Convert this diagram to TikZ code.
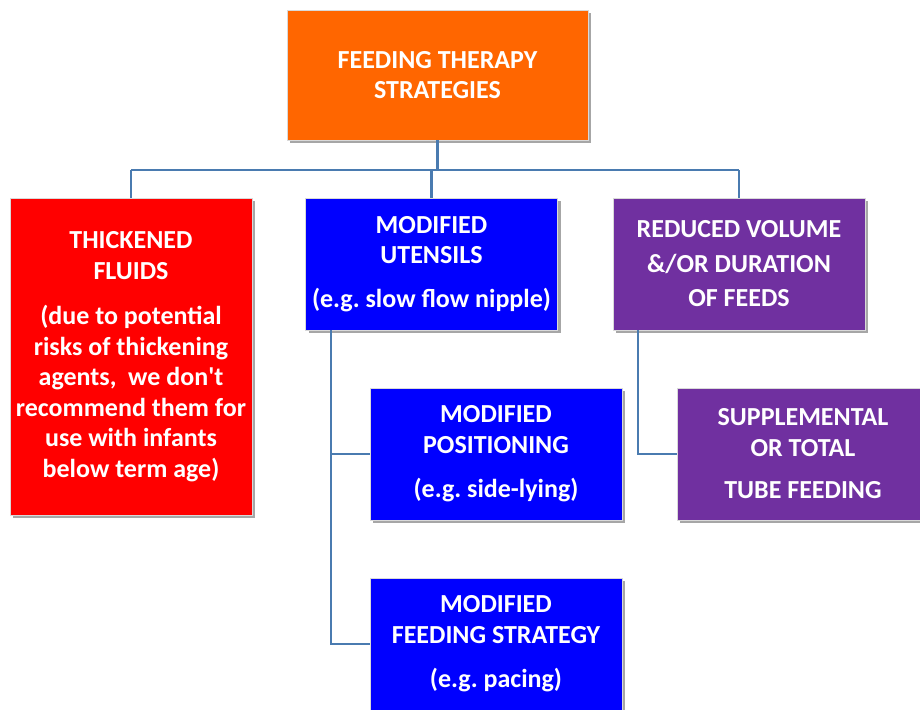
\documentclass[tikz,border=0pt]{standalone}
\usepackage{fontspec}
\setmainfont{Carlito}
\frenchspacing
\usetikzlibrary{shadows,calc}
\definecolor{cOrange}{HTML}{FF6600}
\definecolor{cRed}{HTML}{FF0000}
\definecolor{cBlue}{HTML}{0000FF}
\definecolor{cPurple}{HTML}{7030A0}
\definecolor{cLine}{HTML}{4A7BB0}
\tikzset{
  box/.style={draw=white!85!black, line width=0.8pt, text=white,
    font=\fontsize{26}{30.5}\selectfont\bfseries, align=center,
    inner sep=1pt, minimum width=252pt, minimum height=132pt,
    drop shadow={shadow xshift=3pt, shadow yshift=-3pt, opacity=0.35, fill=black}},
  conn/.style={draw=cLine, line width=2.2pt}
}
\begin{document}
\begin{tikzpicture}[x=1pt,y=-1pt]
\useasboundingbox (0,0) rectangle (920,709);
\node[box, fill=cOrange, minimum width=301pt, minimum height=130pt] (top) at (437.5,75)
  {FEEDING THERAPY\\STRATEGIES};
\node[box, fill=cRed, minimum width=242pt, minimum height=317pt] (thick) at (131,356.5)
  {THICKENED\\FLUIDS\\[15pt](due to potential\\risks of thickening\\agents,\ \ we don\textquotesingle t\\recommend them for\\use with infants\\below term age)};
\node[box, fill=cBlue] (uten) at (431.5,264)
  {MODIFIED\\UTENSILS\\[13pt](e.g. slow flow nipple)};
\node[box, fill=cPurple] (redu) at (739,264)
  {REDUCED VOLUME\\[4pt]\&/OR DURATION\\[4pt]OF FEEDS};
\node[box, fill=cBlue] (posi) at (496,454)
  {MODIFIED\\POSITIONING\\[14pt](e.g. side-lying)};
\node[box, fill=cBlue] (strat) at (496,644)
  {MODIFIED\\FEEDING STRATEGY\\[14pt](e.g. pacing)};
\node[box, fill=cPurple] (supp) at (803,454)
  {SUPPLEMENTAL\\OR TOTAL\\[12pt]TUBE FEEDING};
\coordinate (bus) at (437.5,170);
\draw[conn] (top.south) -- (bus);
\draw[conn] (thick.north |- bus) -- (redu.north |- bus);
\draw[conn] (thick.north) -- (thick.north |- bus);
\draw[conn] (uten.north) -- (uten.north |- bus);
\draw[conn] (redu.north) -- (redu.north |- bus);
\coordinate (ub) at ($(uten.south west)+(26,0)$);
\coordinate (rb) at ($(redu.south west)+(25,0)$);
\draw[conn] (ub) |- (posi.west);
\draw[conn] (ub) |- (strat.west);
\draw[conn] (rb) |- (supp.west);
\end{tikzpicture}
\end{document}
